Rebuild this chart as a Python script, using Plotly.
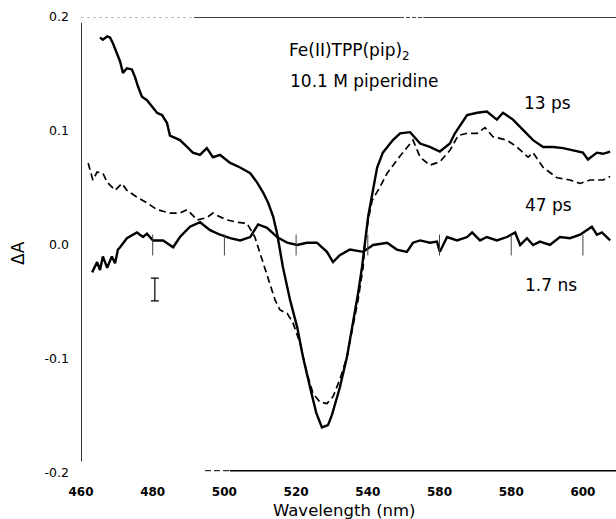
import plotly.graph_objects as go

# ---------------- data ----------------
wl_13ps = [465.3, 466.1, 467.3, 468.1, 468.9, 470.0, 470.9, 471.7, 472.8, 474.2, 475.1, 475.9,
           477.0, 478.4, 479.8, 481.2, 482.6, 484.0, 484.8, 486.2, 487.6, 489.6, 491.2, 493.2,
           495.1, 496.8, 498.8, 501.6, 504.4, 507.2, 509.1, 510.8, 512.2, 513.6, 514.7, 516.3,
           518.3, 520.3, 521.9, 523.9, 525.6, 527.2, 528.9, 530.0, 532.2, 534.2, 535.9, 537.3,
           538.4, 539.2, 540.1, 542.6, 544.2, 547.0, 549.0, 551.8, 554.6, 557.3, 560.1, 562.9,
           564.3, 567.7, 570.5, 573.2, 576.0, 577.7, 580.5, 583.3, 586.1, 588.9, 591.7, 594.5,
           597.2, 600.0, 601.4, 603.9, 605.6, 607.6]
dA_13ps = [0.182, 0.180, 0.183, 0.182, 0.177, 0.168, 0.161, 0.151, 0.155, 0.154, 0.147, 0.139,
           0.130, 0.127, 0.121, 0.116, 0.114, 0.107, 0.096, 0.094, 0.092, 0.086, 0.081, 0.079,
           0.085, 0.077, 0.079, 0.072, 0.068, 0.063, 0.055, 0.046, 0.037, 0.025, 0.010, -0.019,
           -0.048, -0.072, -0.098, -0.125, -0.147, -0.160, -0.158, -0.149, -0.125, -0.098, -0.068, -0.042,
           -0.019, 0.004, 0.025, 0.068, 0.081, 0.092, 0.098, 0.099, 0.089, 0.086, 0.082, 0.089,
           0.098, 0.114, 0.116, 0.117, 0.110, 0.116, 0.110, 0.101, 0.092, 0.086, 0.086, 0.085,
           0.083, 0.081, 0.075, 0.081, 0.080, 0.082]

wl_47ps = [462.0, 463.3, 464.5, 466.1, 467.3, 469.5, 471.4, 472.8, 475.6, 478.4, 481.2, 484.8,
           487.6, 489.6, 491.2, 492.4, 495.1, 496.8, 497.9, 500.7, 503.5, 506.3, 508.5, 510.5,
           512.2, 514.1, 515.5, 517.5, 519.1, 521.1, 523.0, 524.7, 526.7, 528.6, 530.3, 532.2,
           534.2, 535.9, 537.3, 538.7, 539.2, 540.1, 541.2, 543.4, 545.4, 549.0, 551.0, 552.6,
           554.6, 557.3, 560.1, 562.9, 565.2, 567.7, 570.5, 572.7, 574.9, 578.8, 581.6, 584.7,
           586.1, 588.9, 592.8, 596.4, 599.2, 602.0, 605.6, 607.6]
dA_47ps = [0.072, 0.057, 0.064, 0.063, 0.055, 0.048, 0.054, 0.048, 0.042, 0.037, 0.031, 0.028,
           0.028, 0.031, 0.026, 0.022, 0.024, 0.028, 0.026, 0.022, 0.020, 0.019, 0.007, -0.013,
           -0.031, -0.048, -0.057, -0.060, -0.068, -0.086, -0.112, -0.130, -0.138, -0.139, -0.133, -0.118,
           -0.098, -0.072, -0.048, -0.019, 0.002, 0.022, 0.039, 0.051, 0.063, 0.078, 0.086, 0.092,
           0.077, 0.070, 0.073, 0.083, 0.096, 0.098, 0.098, 0.103, 0.095, 0.092, 0.086, 0.077,
           0.081, 0.068, 0.059, 0.057, 0.054, 0.057, 0.057, 0.060]

wl_17ns = [463.1, 464.5, 465.3, 466.1, 467.3, 468.6, 469.5, 470.3, 470.9, 472.8, 475.6, 477.3,
           478.4, 480.1, 482.9, 485.7, 487.6, 490.4, 493.2, 496.0, 498.8, 501.6, 504.4, 507.2,
           509.4, 511.9, 514.7, 517.5, 520.3, 523.0, 525.8, 528.6, 530.3, 532.2, 535.0, 538.7,
           541.5, 545.4, 548.1, 550.9, 552.6, 554.6, 557.3, 559.3, 560.1, 562.1, 564.9, 567.7,
           569.1, 571.3, 573.2, 576.0, 578.8, 581.1, 582.5, 584.4, 586.1, 588.0, 590.8, 593.6,
           596.4, 599.2, 602.5, 603.9, 605.3, 607.6]
dA_17ns = [-0.024, -0.015, -0.022, -0.010, -0.020, -0.010, -0.016, -0.004, -0.002, 0.006, 0.011, 0.007,
           0.010, 0.004, 0.004, -0.002, 0.007, 0.016, 0.020, 0.013, 0.009, 0.006, 0.004, 0.007,
           0.018, 0.015, 0.007, 0.002, 0.000, 0.002, 0.002, -0.006, -0.015, -0.009, -0.004, -0.006,
           0.000, 0.002, -0.004, -0.006, 0.002, 0.004, 0.002, 0.003, -0.006, 0.007, 0.004, 0.007,
           0.011, 0.004, 0.007, 0.004, 0.007, 0.011, 0.000, 0.006, 0.000, 0.003, 0.000, 0.007,
           0.006, 0.009, 0.016, 0.009, 0.011, 0.004]

# typical error bar
err_x = [480.6]
err_y = [-0.039]
err_half = [0.010]

x_tickvals = [460, 480, 500, 520, 540, 560, 580, 600]
x_ticktext = ["460", "480", "500", "520", "540", "580", "580", "600"]
y_tickvals = [0.2, 0.1, 0.0, -0.1, -0.2]
y_ticktext = ["0.2", "0.1", "0.0", "-0.1", "-0.2"]
baseline_ticks = [480, 500, 520, 540, 560, 580, 600]

FONT = "DejaVu Sans, sans-serif"

fig = go.Figure()

fig.add_trace(go.Scatter(x=wl_13ps, y=dA_13ps, mode="lines", name="13 ps",
                         line=dict(color="black", width=2.4)))
fig.add_trace(go.Scatter(x=wl_47ps, y=dA_47ps, mode="lines", name="47 ps",
                         line=dict(color="black", width=1.7, dash="7px,4px")))
fig.add_trace(go.Scatter(x=wl_17ns, y=dA_17ns, mode="lines", name="1.7 ns",
                         line=dict(color="black", width=2.4)))

# small ticks along the zero line
fig.add_trace(go.Scatter(x=baseline_ticks, y=[0.0] * len(baseline_ticks), mode="markers",
                         marker=dict(symbol="line-ns", size=15, line=dict(color="#444", width=1)),
                         hoverinfo="skip"))

# error bar
fig.add_trace(go.Scatter(x=err_x, y=err_y, mode="markers",
                         marker=dict(size=1, color="rgba(0,0,0,0)"),
                         error_y=dict(type="data", array=err_half, color="black",
                                      thickness=1.2, width=4),
                         hoverinfo="skip"))

# frame lines (scanned, partially broken)
x0, x1 = 460, 609.23
fig.add_shape(type="line", xref="x", yref="y", x0=x0, x1=x0, y0=0.195, y1=-0.19,
              line=dict(color="black", width=1.6))
fig.add_shape(type="line", xref="x", yref="y", x0=x0, x1=491.5, y0=0.2, y1=0.2,
              line=dict(color="#888", width=1, dash="dot"))
fig.add_shape(type="line", xref="x", yref="y", x0=491.5, x1=549.0, y0=0.2, y1=0.2,
              line=dict(color="black", width=1.6))
fig.add_shape(type="line", xref="x", yref="y", x0=549.0, x1=555.5, y0=0.2, y1=0.2,
              line=dict(color="black", width=1.6, dash="4px,2px"))
fig.add_shape(type="line", xref="x", yref="y", x0=555.5, x1=x1, y0=0.2, y1=0.2,
              line=dict(color="black", width=1.6))
fig.add_shape(type="line", xref="x", yref="y", x0=494.6, x1=501.5, y0=-0.198, y1=-0.198,
              line=dict(color="#333", width=1.2, dash="6px,3px"))
fig.add_shape(type="line", xref="x", yref="y", x0=501.5, x1=x1, y0=-0.198, y1=-0.198,
              line=dict(color="black", width=1.4))

ann_font = dict(family=FONT, size=17, color="black")
annotations = [
    dict(x=517.5, y=0.170, text="Fe(II)TPP(pip)<sub>2</sub>", xanchor="left", yanchor="middle",
         showarrow=False, font=ann_font),
    dict(x=517.7, y=0.1435, text="10.1 M piperidine", xanchor="left", yanchor="middle",
         showarrow=False, font=ann_font),
    dict(x=583.0, y=0.1246, text="13 ps", xanchor="left", yanchor="middle",
         showarrow=False, font=ann_font),
    dict(x=583.3, y=0.0351, text="47 ps", xanchor="left", yanchor="middle",
         showarrow=False, font=ann_font),
    dict(x=583.3, y=-0.0351, text="1.7 ns", xanchor="left", yanchor="middle",
         showarrow=False, font=ann_font),
    dict(xref="paper", x=0, xshift=-63, y=-0.007, text="ΔA", textangle=-90,
         xanchor="center", yanchor="middle", showarrow=False,
         font=dict(family=FONT, size=17, color="black")),
    dict(xref="x", x=533.6, yref="paper", y=0, yshift=-37, text="Wavelength (nm)",
         xanchor="center", yanchor="middle", showarrow=False,
         font=dict(family=FONT, size=16.5, color="black")),
]

fig.update_layout(
    width=616, height=519,
    margin=dict(l=81, r=0, t=17, b=46),
    paper_bgcolor="white", plot_bgcolor="white",
    showlegend=False,
    annotations=annotations,
    xaxis=dict(range=[x0, x1], tickvals=x_tickvals, ticktext=x_ticktext,
               showgrid=False, zeroline=False, showline=False, ticks="",
               ticklabelstandoff=10,
               tickfont=dict(family=FONT, size=12, color="black", weight="bold")),
    yaxis=dict(range=[-0.2, 0.2], tickvals=y_tickvals, ticktext=y_ticktext,
               showgrid=False, zeroline=False, showline=False, ticks="",
               ticklabelstandoff=11,
               tickfont=dict(family=FONT, size=12.5, color="black")),
)

fig.write_html("out.html")
